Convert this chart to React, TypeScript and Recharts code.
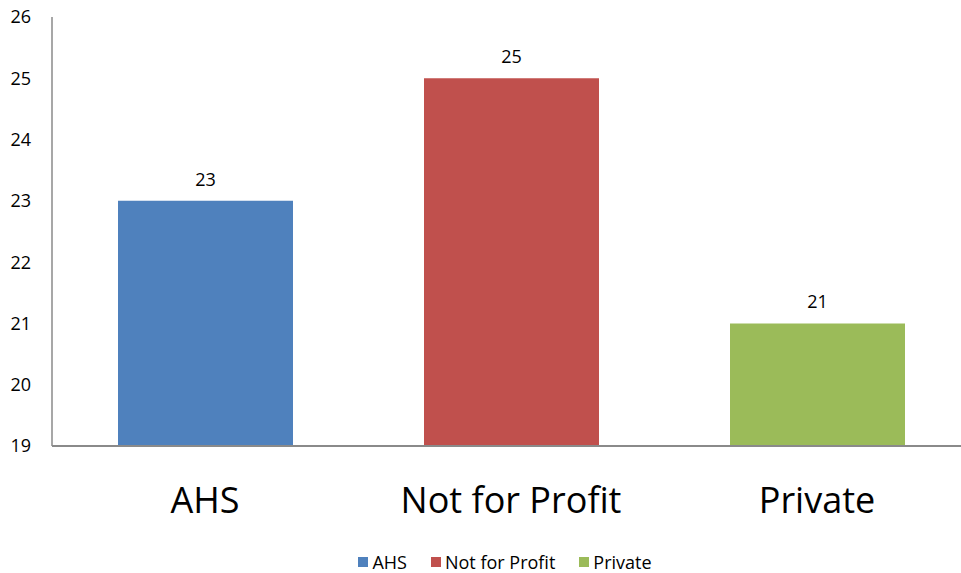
import React from 'react';
import { BarChart, Bar, XAxis, YAxis, Cell, LabelList, Legend } from 'recharts';

const categories = ['AHS', 'Not for Profit', 'Private'];
const values = [23, 25, 21];
const colors = ['#4F81BD', '#C0504D', '#9BBB59'];
const yTicks = [19, 20, 21, 22, 23, 24, 25, 26];

const chartData = categories.map((name, i) => ({ name, value: values[i], fill: colors[i] }));

const font = '"Open Sans", sans-serif';

const LegendContent = () => (
    <div style={{ height: 27, display: 'flex', justifyContent: 'center', alignItems: 'center', fontFamily: font, fontSize: 18, color: '#000', gap: 24, paddingLeft: 40, paddingTop: 4, boxSizing: 'border-box' }}>
        {categories.map((c, i) => (
            <div key={c} style={{ display: 'flex', alignItems: 'center' }}>
                <span style={{ display: 'inline-block', width: 10, height: 10, background: colors[i], marginRight: 4 }} />
                <span>{c}</span>
            </div>
        ))}
    </div>
);

const App: React.FC = () => {
    return (
        <div style={{ position: 'absolute', left: 0, top: 0, width: 961, height: 573, overflow: 'hidden', background: '#fff' }}>
            <BarChart
                width={961}
                height={573}
                data={chartData}
                margin={{ top: 17, right: -9, left: 0, bottom: 0 }}
            >
                <XAxis
                    dataKey="name"
                    height={100}
                    tickLine={false}
                    tickSize={0}
                    tickMargin={41}
                    axisLine={{ stroke: '#8a8a8a', strokeWidth: 2 }}
                    tick={{ fill: '#000', fontSize: 36, fontFamily: font }}
                    interval={0}
                />
                <YAxis
                    width={52}
                    domain={[19, 26]}
                    ticks={yTicks}
                    tickLine={false}
                    tickSize={0}
                    tickMargin={21}
                    axisLine={{ stroke: '#8a8a8a', strokeWidth: 1.5 }}
                    tick={{ fill: '#000', fontSize: 18, fontFamily: font }}
                    allowDataOverflow
                />
                <Legend verticalAlign="bottom" content={<LegendContent />} />
                <Bar dataKey="value" barSize={175} isAnimationActive={false}>
                    {chartData.map((d) => (
                        <Cell key={d.name} fill={d.fill} />
                    ))}
                    <LabelList
                        dataKey="value"
                        position="top"
                        offset={15}
                        style={{ fill: '#000', fontSize: 18, fontFamily: font }}
                    />
                </Bar>
            </BarChart>
        </div>
    );
};

export default App;
